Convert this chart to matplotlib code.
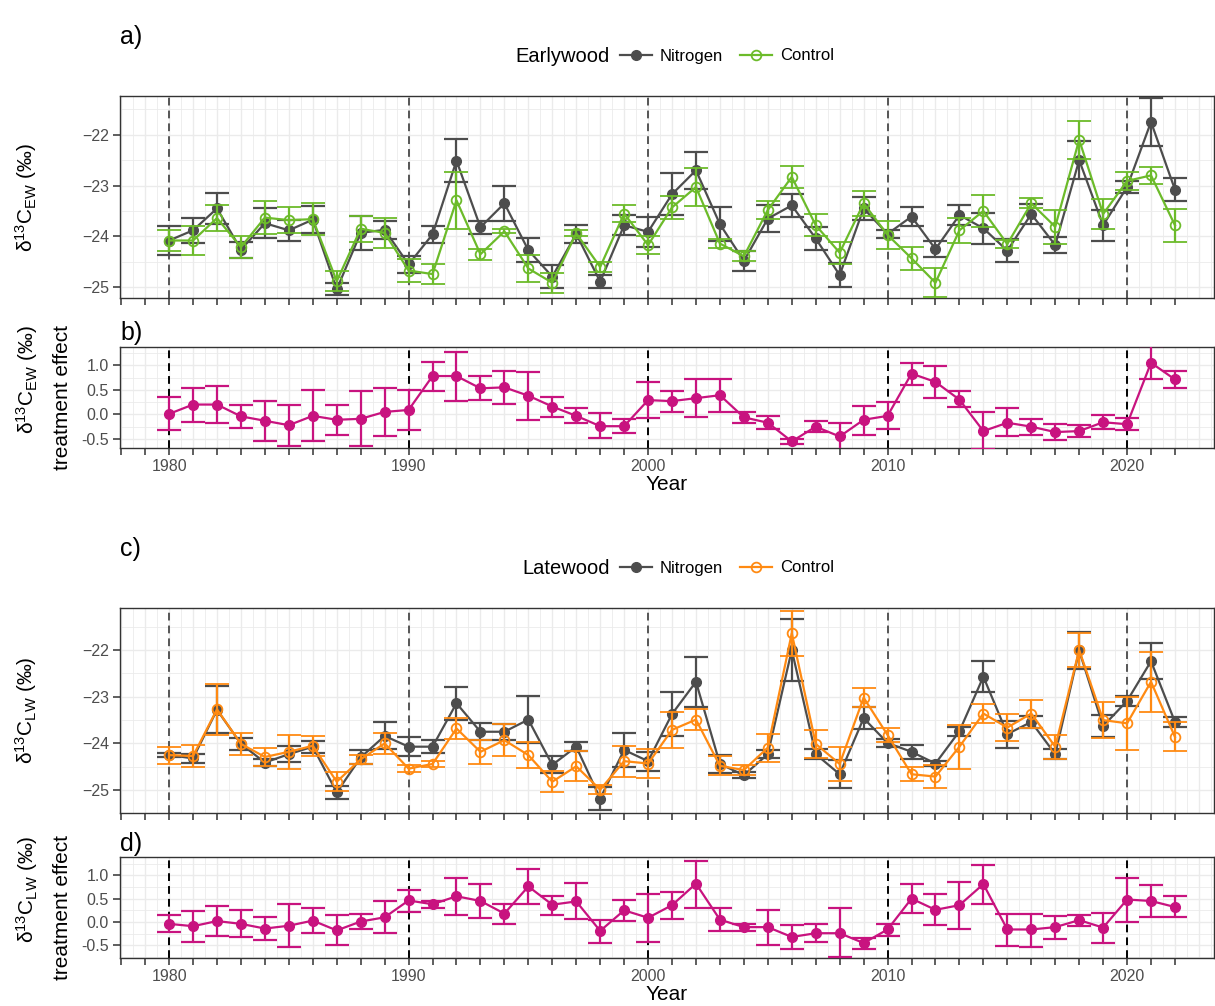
import numpy as np
import matplotlib
matplotlib.use("Agg")
import matplotlib.pyplot as plt
from matplotlib.lines import Line2D

plt.rcParams['font.family'] = ['Liberation Sans', 'DejaVu Sans']
plt.rcParams['mathtext.fontset'] = 'custom'
plt.rcParams['mathtext.rm'] = 'Liberation Sans'
plt.rcParams['mathtext.it'] = 'Liberation Sans:italic'

years = list(range(1980, 2023))

# Earlywood delta13C: means and error half-widths
ew_nitrogen = [-24.08, -23.88, -23.45, -24.26, -23.74, -23.88, -23.67, -25.04, -23.93, -23.87,
               -24.55, -23.96, -22.51, -23.82, -23.35, -24.27, -24.79, -23.95, -24.89, -23.78,
               -23.91, -23.17, -22.70, -23.76, -24.48, -23.65, -23.39, -24.04, -24.76, -23.45,
               -23.95, -23.61, -24.25, -23.58, -23.84, -24.28, -23.56, -24.17, -22.50, -23.78,
               -23.03, -21.75, -23.08]
ew_nitrogen_err = [0.28, 0.25, 0.30, 0.16, 0.30, 0.20, 0.26, 0.12, 0.33, 0.18,
                   0.17, 0.16, 0.42, 0.13, 0.34, 0.23, 0.22, 0.17, 0.13, 0.20,
                   0.29, 0.41, 0.36, 0.33, 0.19, 0.26, 0.22, 0.23, 0.23, 0.23,
                   0.08, 0.18, 0.16, 0.20, 0.31, 0.22, 0.20, 0.15, 0.38, 0.30,
                   0.12, 0.48, 0.22]
ew_control = [-24.08, -24.08, -23.64, -24.21, -23.63, -23.68, -23.66, -24.88, -23.85, -23.93,
              -24.67, -24.74, -23.29, -24.35, -23.90, -24.63, -24.91, -23.94, -24.60, -23.55,
              -24.17, -23.43, -23.03, -24.14, -24.39, -23.48, -22.83, -23.78, -24.32, -23.35,
              -23.97, -24.43, -24.91, -23.88, -23.50, -24.15, -23.35, -23.81, -22.10, -23.56,
              -22.91, -22.80, -23.78]
ew_control_err = [0.20, 0.28, 0.25, 0.21, 0.33, 0.26, 0.31, 0.20, 0.25, 0.30,
                  0.23, 0.20, 0.56, 0.11, 0.04, 0.26, 0.20, 0.06, 0.09, 0.16,
                  0.17, 0.22, 0.38, 0.08, 0.10, 0.18, 0.21, 0.22, 0.22, 0.25,
                  0.28, 0.23, 0.29, 0.24, 0.32, 0.08, 0.10, 0.33, 0.37, 0.30,
                  0.18, 0.17, 0.32]

# Earlywood treatment effect (Nitrogen - Control) with interval bounds
ew_effect = [0.01, 0.20, 0.20, -0.04, -0.13, -0.22, -0.03, -0.11, -0.09, 0.05,
             0.09, 0.78, 0.78, 0.53, 0.55, 0.38, 0.16, -0.03, -0.24, -0.24,
             0.29, 0.27, 0.33, 0.39, -0.06, -0.17, -0.55, -0.25, -0.45, -0.11,
             -0.03, 0.83, 0.66, 0.30, -0.34, -0.17, -0.25, -0.36, -0.34, -0.16,
             -0.20, 1.05, 0.71]
ew_effect_lo = [-0.32, -0.16, -0.17, -0.28, -0.54, -0.64, -0.55, -0.41, -0.64, -0.43,
                -0.32, 0.48, 0.27, 0.29, 0.22, -0.11, -0.05, -0.18, -0.49, -0.37,
                -0.07, 0.05, -0.06, 0.05, -0.18, -0.30, -0.61, -0.35, -0.74, -0.41,
                -0.30, 0.59, 0.34, 0.16, -0.71, -0.45, -0.41, -0.53, -0.47, -0.30,
                -0.32, 0.72, 0.54]
ew_effect_hi = [0.36, 0.53, 0.57, 0.20, 0.27, 0.20, 0.49, 0.20, 0.47, 0.53,
                0.50, 1.07, 1.26, 0.78, 0.89, 0.86, 0.35, 0.12, 0.02, -0.09,
                0.66, 0.48, 0.72, 0.72, 0.05, -0.03, -0.51, -0.13, -0.17, 0.17,
                0.26, 1.05, 0.98, 0.47, 0.04, 0.14, -0.09, -0.20, -0.22, -0.01,
                -0.08, 1.40, 0.88]

# Latewood delta13C: means and error half-widths
lw_nitrogen = [-24.25, -24.32, -23.28, -24.01, -24.41, -24.23, -24.07, -25.05, -24.30, -23.84,
               -24.07, -24.07, -23.14, -23.75, -23.75, -23.49, -24.46, -24.07, -25.18, -24.14,
               -24.38, -23.37, -22.68, -24.44, -24.68, -24.23, -22.00, -24.23, -24.66, -23.46,
               -23.99, -24.18, -24.43, -23.74, -22.57, -23.80, -23.54, -24.23, -22.01, -23.63,
               -23.09, -22.24, -23.54]
lw_nitrogen_err = [0.05, 0.10, 0.50, 0.13, 0.08, 0.17, 0.13, 0.13, 0.15, 0.29,
                   0.21, 0.14, 0.35, 0.18, 0.17, 0.51, 0.18, 0.09, 0.24, 0.36,
                   0.20, 0.47, 0.53, 0.20, 0.07, 0.08, 0.66, 0.10, 0.30, 0.24,
                   0.08, 0.15, 0.06, 0.10, 0.33, 0.29, 0.12, 0.10, 0.40, 0.24,
                   0.10, 0.38, 0.10]
lw_control = [-24.25, -24.27, -23.27, -24.01, -24.29, -24.18, -24.05, -24.82, -24.34, -24.00,
              -24.54, -24.44, -23.68, -24.18, -23.93, -24.25, -24.82, -24.49, -24.99, -24.38,
              -24.43, -23.71, -23.49, -24.48, -24.57, -24.09, -21.64, -24.01, -24.44, -23.02,
              -23.82, -24.66, -24.71, -24.07, -23.36, -23.66, -23.36, -24.07, -22.00, -23.50,
              -23.57, -22.68, -23.86]
lw_control_err = [0.18, 0.23, 0.55, 0.24, 0.20, 0.36, 0.21, 0.20, 0.09, 0.23,
                  0.07, 0.06, 0.23, 0.25, 0.34, 0.27, 0.22, 0.32, 0.10, 0.33,
                  0.32, 0.39, 0.23, 0.20, 0.11, 0.30, 0.48, 0.30, 0.36, 0.21,
                  0.14, 0.15, 0.25, 0.47, 0.21, 0.28, 0.30, 0.26, 0.36, 0.38,
                  0.57, 0.64, 0.31]

# Latewood treatment effect (Nitrogen - Control) with interval bounds
lw_effect = [-0.04, -0.09, 0.02, -0.04, -0.14, -0.08, 0.03, -0.18, 0.01, 0.10,
             0.46, 0.38, 0.55, 0.45, 0.18, 0.76, 0.37, 0.44, -0.19, 0.25,
             0.09, 0.36, 0.82, 0.05, -0.11, -0.11, -0.32, -0.24, -0.24, -0.45,
             -0.16, 0.50, 0.26, 0.36, 0.81, -0.16, -0.16, -0.11, 0.04, -0.12,
             0.48, 0.45, 0.32]
lw_effect_lo = [-0.21, -0.43, -0.31, -0.32, -0.38, -0.53, -0.24, -0.49, -0.16, -0.23,
                0.21, 0.30, 0.14, 0.09, -0.04, 0.39, 0.16, 0.06, -0.45, 0.02,
                -0.43, 0.07, 0.31, -0.19, -0.19, -0.50, -0.57, -0.43, -0.75, -0.57,
                -0.31, 0.19, -0.06, -0.15, 0.39, -0.52, -0.54, -0.36, -0.09, -0.45,
                0.01, 0.11, 0.11]
lw_effect_hi = [0.14, 0.24, 0.34, 0.26, 0.11, 0.39, 0.29, 0.14, 0.18, 0.44,
                0.68, 0.45, 0.95, 0.81, 0.39, 1.13, 0.56, 0.84, 0.05, 0.48,
                0.59, 0.64, 1.31, 0.29, -0.04, 0.26, -0.07, -0.05, 0.30, -0.34,
                -0.04, 0.81, 0.59, 0.86, 1.21, 0.18, 0.18, 0.12, 0.16, 0.20,
                0.94, 0.79, 0.56]

decades = [1980, 1990, 2000, 2010, 2020]

NITRO = '#4D4D4D'
EW_CTRL = '#6CBB2A'
LW_CTRL = '#FF8A12'
EFFECT = '#C8137F'

W, H = 1215, 1006
fig = plt.figure(figsize=(W / 100, H / 100), dpi=100)


def px_axes(left, top, right, bottom):
    return fig.add_axes([left / W, 1 - bottom / H, (right - left) / W, (bottom - top) / H])


PANELS = {'a': (96, 298), 'b': (347, 448), 'c': (608, 813), 'd': (857, 958)}
ax_a = px_axes(120, PANELS['a'][0], 1214, PANELS['a'][1])
ax_b = px_axes(120, PANELS['b'][0], 1214, PANELS['b'][1])
ax_c = px_axes(120, PANELS['c'][0], 1214, PANELS['c'][1])
ax_d = px_axes(120, PANELS['d'][0], 1214, PANELS['d'][1])

XLIM = (1977.95, 2023.63)


def style_axes(ax, ylim, ymajor, yminor, xlabels, dash_color):
    ax.set_xlim(*XLIM)
    ax.set_ylim(*ylim)
    for x in np.arange(1978.0, 2024.01, 0.5):
        ax.axvline(x, color='#EBEBEB', lw=1.0 if x == int(x) else 0.6, zorder=0)
    for y in yminor:
        ax.axhline(y, color='#EBEBEB', lw=0.6, zorder=0)
    for y in ymajor:
        ax.axhline(y, color='#EBEBEB', lw=1.0, zorder=0)
    for d in decades:
        ax.axvline(d, color=dash_color, lw=1.4, ls=(0, (4, 2.6)), zorder=1)
    ticks = list(range(1978, 2023))
    ax.set_xticks(ticks)
    if xlabels:
        ax.set_xticklabels([str(t) if t % 10 == 0 else '' for t in ticks])
    else:
        ax.set_xticklabels(['' for _ in ticks])
    ax.set_yticks(ymajor)
    ax.tick_params(axis='both', length=5, width=1.1, color='#333333',
                   labelsize=11.5, labelcolor='#4D4D4D', pad=3)
    for s in ax.spines.values():
        s.set_color('#333333')
        s.set_linewidth(1.0)
    ax.set_facecolor('white')


def draw_pair(ax, nit, nit_err, ctl, ctl_err, ctl_color):
    ax.errorbar(years, nit, yerr=nit_err, fmt='-o', color=NITRO, lw=1.6,
                elinewidth=1.6, capsize=8.5, capthick=1.6, markersize=7, zorder=3)
    ax.errorbar(years, ctl, yerr=ctl_err, fmt='-o', color=ctl_color, lw=1.6,
                elinewidth=1.6, capsize=8.5, capthick=1.6, markersize=7,
                mfc='none', mew=1.3, zorder=4)


def draw_effect(ax, eff, lo, hi):
    eff = np.asarray(eff)
    yerr = [eff - np.asarray(lo), np.asarray(hi) - eff]
    ax.errorbar(years, eff, yerr=yerr, fmt='-o', color=EFFECT, lw=1.6,
                elinewidth=1.6, capsize=8.5, capthick=1.6, markersize=7, zorder=3)


draw_pair(ax_a, ew_nitrogen, ew_nitrogen_err, ew_control, ew_control_err, EW_CTRL)
style_axes(ax_a, (-25.21, -21.24), [-25, -24, -23, -22], np.arange(-25.5, -21.0, 0.5),
           False, '#555555')
draw_effect(ax_b, ew_effect, ew_effect_lo, ew_effect_hi)
style_axes(ax_b, (-0.684, 1.371), [-0.5, 0.0, 0.5, 1.0], np.arange(-0.75, 1.5, 0.25),
           True, 'black')
ax_b.set_yticklabels(['-0.5', '0.0', '0.5', '1.0'])
draw_pair(ax_c, lw_nitrogen, lw_nitrogen_err, lw_control, lw_control_err, LW_CTRL)
style_axes(ax_c, (-25.49, -21.1), [-25, -24, -23, -22], np.arange(-25.5, -21.0, 0.5),
           False, '#555555')
draw_effect(ax_d, lw_effect, lw_effect_lo, lw_effect_hi)
style_axes(ax_d, (-0.77, 1.39), [-0.5, 0.0, 0.5, 1.0], np.arange(-0.75, 1.5, 0.25),
           True, 'black')
ax_d.set_yticklabels(['-0.5', '0.0', '0.5', '1.0'])

for ax in (ax_b, ax_d):
    ax.set_xlabel('Year', fontsize=15, labelpad=1)

# y-axis titles, drawn as rotated figure texts
ew_lab = 'δ$^{\\mathregular{13}}$C$_{\\mathregular{EW}}$ (‰)'
lw_lab = 'δ$^{\\mathregular{13}}$C$_{\\mathregular{LW}}$ (‰)'
effect_lab = 'treatment effect'
TITLE_FS = 15


def ytitle(x_px, y_px, text, va):
    fig.text(x_px / W, 1 - y_px / H, text, rotation=90, fontsize=TITLE_FS,
             ha='center', va=va)


for key, lab in (('a', ew_lab), ('c', lw_lab)):
    top, bottom = PANELS[key]
    ytitle(26, (top + bottom) / 2, lab, 'center')

for key, lab in (('b', ew_lab), ('d', lw_lab)):
    top, bottom = PANELS[key]
    mid = (top + bottom) / 2
    ytitle(62, mid, effect_lab, 'center')
    # upper end of the first line aligned with the end of "treatment effect"
    ytitle(27, mid - 72.5, lab, 'top')

# panel tags
for tag, ypx in (('a)', 37), ('b)', 333), ('c)', 549), ('d)', 844)):
    fig.text(120 / W, 1 - ypx / H, tag, fontsize=18, ha='left', va='center')

# legends above the upper panels
for title, ctl_color, ypx in (('Earlywood', EW_CTRL, 56), ('Latewood', LW_CTRL, 568)):
    fig.text(610 / W, 1 - ypx / H, title, fontsize=14.5, ha='right', va='center')
    handles = [
        Line2D([], [], color=NITRO, marker='o', lw=1.6, markersize=7),
        Line2D([], [], color=ctl_color, marker='o', lw=1.6, markersize=7,
               mfc='none', mew=1.3),
    ]
    fig.legend(handles, ['Nitrogen', 'Control'], loc='center left',
               bbox_to_anchor=(620 / W, 1 - ypx / H), ncol=2, frameon=False,
               fontsize=12, handlelength=1.9, handletextpad=0.5, columnspacing=1.0,
               borderaxespad=0, borderpad=0)

fig.savefig('out.png', dpi=100, facecolor='white')
